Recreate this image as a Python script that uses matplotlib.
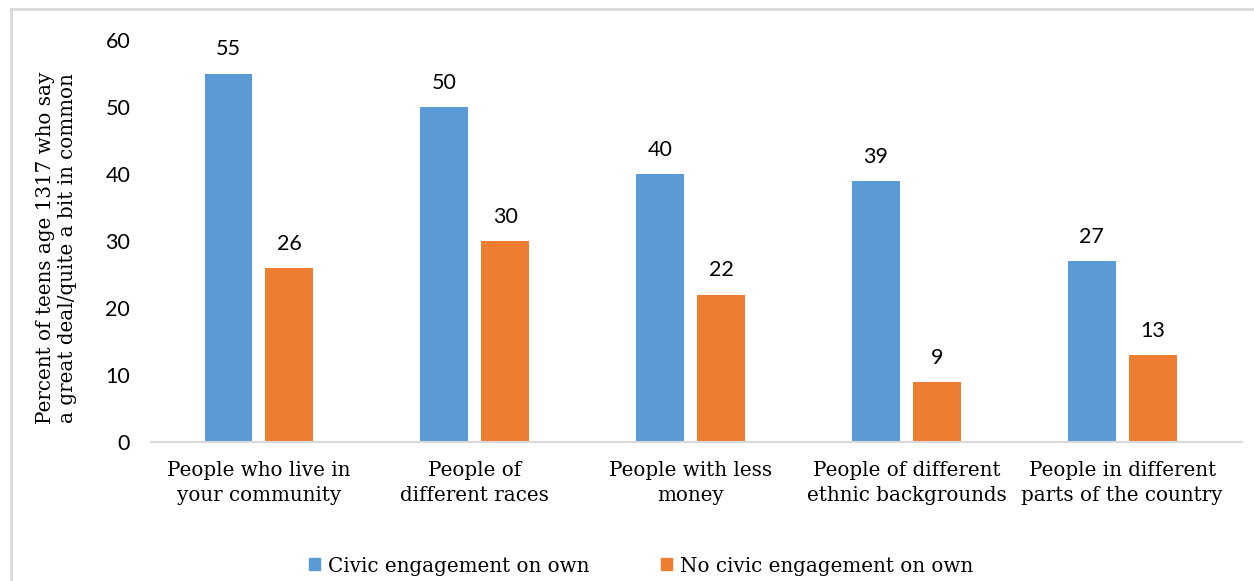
import matplotlib
matplotlib.use("Agg")
import matplotlib.pyplot as plt
from matplotlib.lines import Line2D
from matplotlib.patches import Patch
import numpy as np

categories = ["People who live in\nyour community", "People of\ndifferent races",
              "People with less\nmoney", "People of different\nethnic backgrounds",
              "People in different\nparts of the country"]
civic = [55, 50, 40, 39, 27]
no_civic = [26, 30, 22, 9, 13]
series_names = ["Civic engagement on own", "No civic engagement on own"]
y_ticks = [0, 10, 20, 30, 40, 50, 60]
y_label = "Percent of teens age 1317 who say\na great deal/quite a bit in common"

blue = "#5B9BD5"
orange = "#ED7D31"
sans = "Lato"
serif = "DejaVu Serif"

fig = plt.figure(figsize=(12.54, 5.81), dpi=100)
ax = fig.add_axes([151 / 1254, 1 - 442 / 581, 1091 / 1254, 402 / 581])

x = np.arange(len(categories))
w = 0.222
off = 0.141
b1 = ax.bar(x - off, civic, w, color=blue)
b2 = ax.bar(x + off, no_civic, w, color=orange)

for bars, vals in ((b1, civic), (b2, no_civic)):
    for b, v in zip(bars, vals):
        ax.text(b.get_x() + b.get_width() / 2, v + 3.6, str(v), ha="center", va="center",
                fontsize=15.5, family=sans)

ax.set_xlim(-0.5, 4.555)
ax.set_ylim(0, 60)
ax.set_yticks(y_ticks)
ax.set_yticklabels([str(t) for t in y_ticks], family=sans, fontsize=15.5)
ax.set_xticks(x)
ax.set_xticklabels(categories, family=serif, fontsize=14.3, linespacing=1.4)
ax.tick_params(length=0)
ax.tick_params(axis="x", pad=14)
ax.tick_params(axis="y", pad=15)
for s in ["top", "right", "left"]:
    ax.spines[s].set_visible(False)
ax.spines["bottom"].set_color("#D9D9D9")
ax.spines["bottom"].set_linewidth(1.5)

fig.text(57 / 1254, 1 - 248 / 581, y_label, rotation=90, ha="center", va="center",
         family=serif, fontsize=14.3, linespacing=1.2)

handles = [Patch(color=blue), Patch(color=orange)]
fig.legend(handles, series_names, loc="center", bbox_to_anchor=(641 / 1254, 1 - 566 / 581),
           ncol=2, frameon=False, prop={"family": serif, "size": 14.3},
           handlelength=0.55, handleheight=0.55, handletextpad=0.4, columnspacing=3.6)

# outer frame (top and left edges only visible)
fig.add_artist(Line2D([11 / 1254, 11 / 1254], [0, 1 - 9 / 581], color="#D9D9D9", lw=2,
                      transform=fig.transFigure))
fig.add_artist(Line2D([11 / 1254, 1], [1 - 9 / 581, 1 - 9 / 581], color="#D9D9D9", lw=2,
                      transform=fig.transFigure))

fig.savefig("out.png", dpi=100)
